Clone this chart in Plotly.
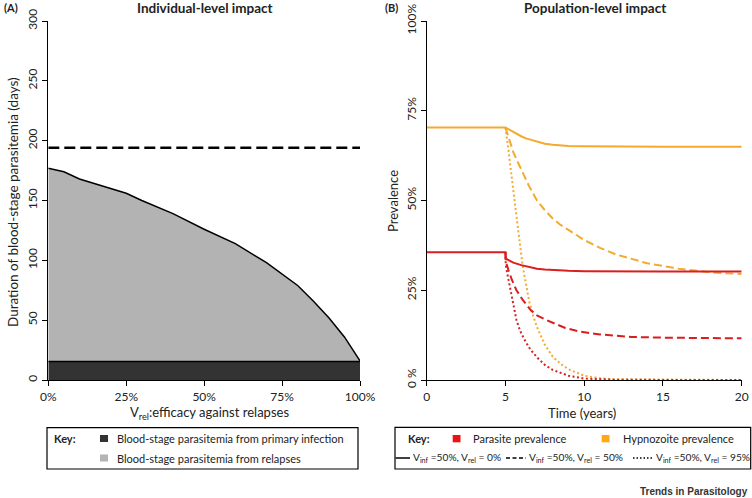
import plotly.graph_objects as go

W, H = 752, 498
FONT = "Lato"

# ---------- Panel A data ----------
vrel_pct = [0, 5, 10, 20, 25, 30, 40, 50, 60, 70, 80, 85, 90, 95, 100]
total_duration = [177, 174, 168, 160, 156, 150, 139, 126, 114, 98, 79, 66, 52, 36, 16]
primary_duration = [15.5] * len(vrel_pct)
no_vaccine_duration = 194
a_xticks = [0, 25, 50, 75, 100]
a_xticklabels = ["0%", "25%", "50%", "75%", "100%"]
a_yticks = [0, 50, 100, 150, 200, 250, 300]

# ---------- Panel B data ----------
t_solid_par = [0, 5, 5.02, 5.2, 5.5, 6, 6.5, 7, 7.5, 8, 9, 10, 12, 15, 20]
par_solid = [35.6, 35.6, 33.8, 33.3, 32.7, 32.0, 31.4, 31.0, 30.8, 30.6, 30.4, 30.3, 30.2, 30.2, 30.2]
t_solid_hyp = [0, 5, 5.3, 5.6, 6, 6.3, 6.6, 7, 7.5, 8, 8.5, 9, 10, 12, 15, 20]
hyp_solid = [70.3, 70.3, 69.6, 68.8, 67.9, 67.3, 66.9, 66.3, 65.8, 65.5, 65.3, 65.2, 65.1, 65.0, 65.0, 65.0]

t_dash_par = [5, 5.02, 5.2, 5.4, 5.7, 6.1, 6.6, 7.0, 7.6, 8.2, 8.8, 9.7, 11, 13, 15, 20]
par_dash = [35.6, 33.0, 30.5, 28.0, 25.0, 22.3, 19.5, 18.0, 16.7, 15.6, 14.5, 13.5, 12.7, 12.0, 11.8, 11.6]
t_dash_hyp = [5, 5.25, 5.5, 5.75, 6, 6.5, 7, 7.5, 8, 8.5, 9, 10, 11, 12, 14, 16, 18, 20]
hyp_dash = [70.3, 66.8, 63.5, 61.0, 58.5, 54.0, 50.0, 47.3, 45.0, 43.2, 41.8, 39.0, 36.8, 35.0, 32.5, 31.0, 30.0, 29.5]

t_dot_par = [5, 5.02, 5.1, 5.2, 5.3, 5.4, 5.55, 5.7, 5.85, 6.0, 6.3, 6.6, 7.0, 7.5, 8.0, 8.5, 9.0, 10, 11, 12, 20]
par_dot = [35.6, 32.0, 30.0, 27.8, 25.6, 23.2, 19.9, 16.7, 14.7, 13.0, 10.5, 8.4, 6.3, 4.2, 2.8, 1.9, 1.2, 0.4, 0.15, 0.05, 0]
t_dot_hyp = [5, 5.1, 5.2, 5.3, 5.45, 5.6, 5.8, 6.1, 6.3, 6.5, 6.75, 7.0, 7.5, 8.0, 8.5, 9.0, 10, 11, 12, 20]
hyp_dot = [70.3, 67.5, 63.8, 60.0, 55.0, 50.0, 42.0, 31.6, 26.4, 22.0, 18.0, 14.8, 9.8, 6.5, 4.5, 3.0, 1.2, 0.5, 0.2, 0]

b_xticks = [0, 5, 10, 15, 20]
b_yticks = [0, 25, 50, 75, 100]
b_yticklabels = ["0 %", "25%", "50%", "75%", "100%"]

RED = "#d91e1e"
ORANGE = "#f2aa2f"
RED_SW = "#ee1111"
ORANGE_SW = "#ffa812"


def px(x):
    return x / W


def py(y):
    return 1 - y / H


fig = go.Figure()

# Panel A traces
fig.add_trace(go.Scatter(x=vrel_pct, y=primary_duration, mode="lines", fill="tozeroy",
                         fillcolor="#333333", line=dict(color="black", width=1.5),
                         xaxis="x", yaxis="y", showlegend=False))
fig.add_trace(go.Scatter(x=vrel_pct, y=total_duration, mode="lines", fill="tonexty",
                         fillcolor="#b3b3b3", line=dict(color="black", width=1.5),
                         xaxis="x", yaxis="y", showlegend=False))
fig.add_trace(go.Scatter(x=[0, 100], y=[no_vaccine_duration] * 2, mode="lines",
                         line=dict(color="black", width=2.5, dash="11px,5px"),
                         xaxis="x", yaxis="y", showlegend=False, cliponaxis=False))

# Panel B traces
DASH = "8px,4px"
DOT = "2px,2.5px"
for xs, ys, col, dash in [
    (t_solid_hyp, hyp_solid, ORANGE, "solid"),
    (t_dash_hyp, hyp_dash, ORANGE, DASH),
    (t_dot_hyp, hyp_dot, ORANGE, DOT),
    (t_solid_par, par_solid, RED, "solid"),
    (t_dash_par, par_dash, RED, DASH),
    (t_dot_par, par_dot, RED, DOT),
]:
    fig.add_trace(go.Scatter(x=xs, y=ys, mode="lines", line=dict(color=col, width=2, dash=dash),
                             xaxis="x2", yaxis="y2", showlegend=False, cliponaxis=False))

axis_common = dict(showline=True, linecolor="black", linewidth=1.2, ticks="outside",
                   ticklen=5, tickwidth=1.2, tickcolor="black", showgrid=False, zeroline=False,
                   automargin=False,
                   tickfont=dict(family=FONT, size=12, color="#222"))

fig.update_layout(
    width=W, height=H, margin=dict(l=0, r=0, t=0, b=0),
    paper_bgcolor="white", plot_bgcolor="white",
    font=dict(family=FONT, color="#222"),
    xaxis=dict(domain=[px(48.3), px(360)], range=[0, 100], tickvals=a_xticks,
               ticktext=a_xticklabels, anchor="y", **axis_common),
    yaxis=dict(domain=[py(380), py(21)], range=[0, 300], tickvals=a_yticks, tickangle=-90,
               anchor="x", **axis_common),
    xaxis2=dict(domain=[px(426.7), px(741.7)], range=[0, 20], tickvals=b_xticks, anchor="y2",
                **axis_common),
    yaxis2=dict(domain=[py(380), py(21)], range=[0, 100], tickvals=b_yticks,
                ticktext=b_yticklabels, tickangle=-90, anchor="x2", **axis_common),
)

ann = []
shapes = []


def text(x, y, s, size=12, bold=False, xanchor="left", family=FONT, color="#222", angle=0):
    ann.append(dict(x=px(x), y=py(y), xref="paper", yref="paper", text=f"<b>{s}</b>" if bold else s,
                    showarrow=False, xanchor=xanchor, yanchor="middle", textangle=angle,
                    font=dict(family=family, size=size, color=color)))


def rect(x0, y0, x1, y1, fill=None, line="black", lw=1):
    shapes.append(dict(type="rect", xref="paper", yref="paper", x0=px(x0), x1=px(x1),
                       y0=py(y1), y1=py(y0), fillcolor=fill if fill else "rgba(0,0,0,0)",
                       line=dict(color=line, width=lw)))


def hline(x0, x1, y, dash="solid", lw=1.5):
    shapes.append(dict(type="line", xref="paper", yref="paper", x0=px(x0), x1=px(x1),
                       y0=py(y), y1=py(y), line=dict(color="black", width=lw, dash=dash)))


# Titles
text(2, 8, "(A)", size=11, bold=True)
text(205, 8, "Individual-level impact", size=13.5, bold=True, xanchor="center")
text(383, 8, "(B)", size=11, bold=True)
text(595, 8, "Population-level impact", size=13.5, bold=True, xanchor="center")

# Axis titles
text(209, 413, "V<sub>rel</sub>:efficacy against relapses", size=13, xanchor="center")
text(13, 202, "Duration of blood-stage parasitemia (days)", size=13.5, xanchor="center", angle=-90)
text(582, 413, "Time (years)", size=13, xanchor="center")
text(393, 201, "Prevalence", size=13, xanchor="center", angle=-90)

# Legend A
rect(47, 427.7, 358, 469, lw=1.2)
text(52, 438, "Key:", size=11, bold=True)
rect(100, 435, 108, 442, fill="#333333", line="#333333", lw=0)
text(115, 438, "Blood-stage parasitemia from primary infection", size=11)
rect(100, 454.5, 108, 461.5, fill="#b3b3b3", line="#b3b3b3", lw=0)
text(115, 458, "Blood-stage parasitemia from relapses", size=11)

# Legend B
rect(395, 427.3, 750.7, 469, lw=1.2)
text(406, 438, "Key:", size=11, bold=True)
rect(452.7, 435, 460.5, 442.3, fill=RED_SW, line=RED_SW, lw=0)
text(471, 438, "Parasite prevalence", size=11)
rect(601.7, 435, 609.5, 442.3, fill=ORANGE_SW, line=ORANGE_SW, lw=0)
text(621, 438, "Hypnozoite prevalence", size=11)
hline(395.5, 410, 458)
text(410.5, 458, "V<sub>inf</sub> =50%, V<sub>rel</sub> = 0%", size=10.2)
hline(506, 526, 458, dash="4px,2.5px")
text(527, 458, "V<sub>inf</sub> =50%, V<sub>rel</sub> = 50%", size=10.2)
hline(633, 653, 458, dash="1.5px,2px", lw=1.3)
text(654, 458, "V<sub>inf</sub> =50%, V<sub>rel</sub> = 95%", size=10.2)

# Credit
text(750, 491.5, "Trends in Parasitology", size=10, bold=True, xanchor="right",
     family="Liberation Sans Narrow, Liberation Sans, Arial", color="#333")

fig.update_layout(annotations=ann, shapes=shapes)
fig.write_html("out.html", config={"displayModeBar": False},
               post_script="document.body.style.margin='0';document.body.style.overflow='hidden';")
